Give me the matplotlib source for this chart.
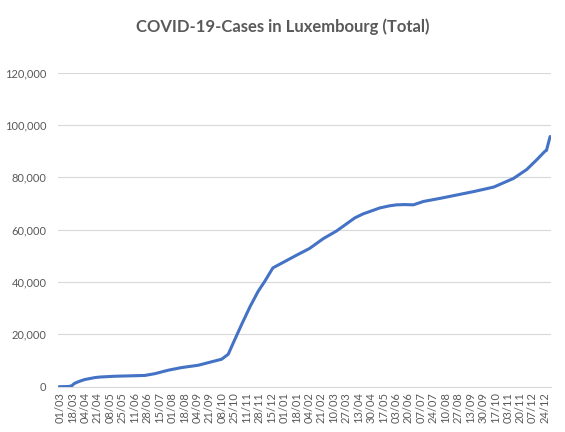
"""COVID-19 cumulative cases in Luxembourg, Excel-style line chart."""

from datetime import date, timedelta

import matplotlib
matplotlib.use("Agg")
import matplotlib.pyplot as plt
import matplotlib.dates as mdates
from matplotlib.ticker import FuncFormatter

# values
DATES = [
    "2020-02-29", "2020-03-13", "2020-03-17", "2020-03-21", "2020-03-28",
    "2020-04-04", "2020-04-18", "2020-04-25", "2020-05-15", "2020-06-05",
    "2020-06-25", "2020-07-09", "2020-07-27", "2020-08-14", "2020-09-06",
    "2020-09-24", "2020-10-08", "2020-10-17", "2020-10-24", "2020-11-04",
    "2020-11-16", "2020-11-27", "2020-12-06", "2020-12-17", "2020-12-31",
    "2021-01-18", "2021-02-05", "2021-02-24", "2021-03-14", "2021-03-30",
    "2021-04-08", "2021-04-19", "2021-05-12", "2021-05-25", "2021-06-04",
    "2021-06-15", "2021-06-27", "2021-07-11", "2021-08-03", "2021-08-26",
    "2021-09-18", "2021-10-15", "2021-11-11", "2021-11-29", "2021-12-13",
    "2021-12-24", "2021-12-26", "2021-12-31",
]
CASES = [
    0, 80, 350, 1300, 2100,
    2750, 3500, 3700, 4000, 4150,
    4300, 5000, 6300, 7300, 8200,
    9500, 10500, 12400, 16800, 23600,
    30700, 36500, 40300, 45400, 47500,
    50200, 52800, 56600, 59500, 62700,
    64500, 66000, 68300, 69100, 69500,
    69600, 69500, 70800, 72000, 73300,
    74600, 76300, 79600, 83000, 86800,
    90000, 90300, 95600,
]
FIRST_TICK = date(2020, 3, 1)
TICK_STEP_DAYS = 17
N_TICKS = 40
Y_TICKS = list(range(0, 120001, 20000))
TITLE = "COVID-19-Cases in Luxembourg (Total)"

LINE_COLOR = "#4472C4"
TEXT_COLOR = "#595959"
GRID_COLOR = "#D9D9D9"

plt.rcParams["font.family"] = ["Lato", "DejaVu Sans"]


def main():
    xs = [mdates.date2num(date.fromisoformat(d)) for d in DATES]
    ticks = [FIRST_TICK + timedelta(days=TICK_STEP_DAYS * i) for i in range(N_TICKS)]
    d0 = mdates.date2num(FIRST_TICK)

    fig = plt.figure(figsize=(5.65, 4.32), dpi=100)
    ax = fig.add_axes([58.3 / 565, 1 - 386.7 / 432, (550.7 - 58.3) / 565, (386.7 - 72.7) / 432])

    ax.plot(xs, CASES, color=LINE_COLOR, linewidth=2.2, solid_capstyle="round",
            solid_joinstyle="round", zorder=3)

    ax.set_xlim(d0 - 2.3, d0 + 670.8)
    ax.set_ylim(0, 120000)
    ax.set_yticks(Y_TICKS)
    ax.yaxis.set_major_formatter(FuncFormatter(lambda v, _: f"{int(v):,}"))
    ax.set_xticks([mdates.date2num(t) for t in ticks])
    ax.set_xticklabels([t.strftime("%d/%m") for t in ticks], rotation=90)

    ax.tick_params(axis="both", length=0, labelsize=8, labelcolor=TEXT_COLOR)
    ax.tick_params(axis="y", pad=8.5)
    ax.tick_params(axis="x", pad=4)

    ax.grid(axis="y", color=GRID_COLOR, linewidth=0.8, zorder=0)
    ax.set_axisbelow(True)
    for side in ("top", "right", "left"):
        ax.spines[side].set_visible(False)
    ax.spines["bottom"].set_color(GRID_COLOR)
    ax.spines["bottom"].set_linewidth(0.8)

    fig.text(0.5, 1 - 27 / 432, TITLE, ha="center", va="center",
             fontsize=12, fontweight="bold", color=TEXT_COLOR)

    fig.savefig("out.png", dpi=100)
    plt.close(fig)


if __name__ == "__main__":
    main()
